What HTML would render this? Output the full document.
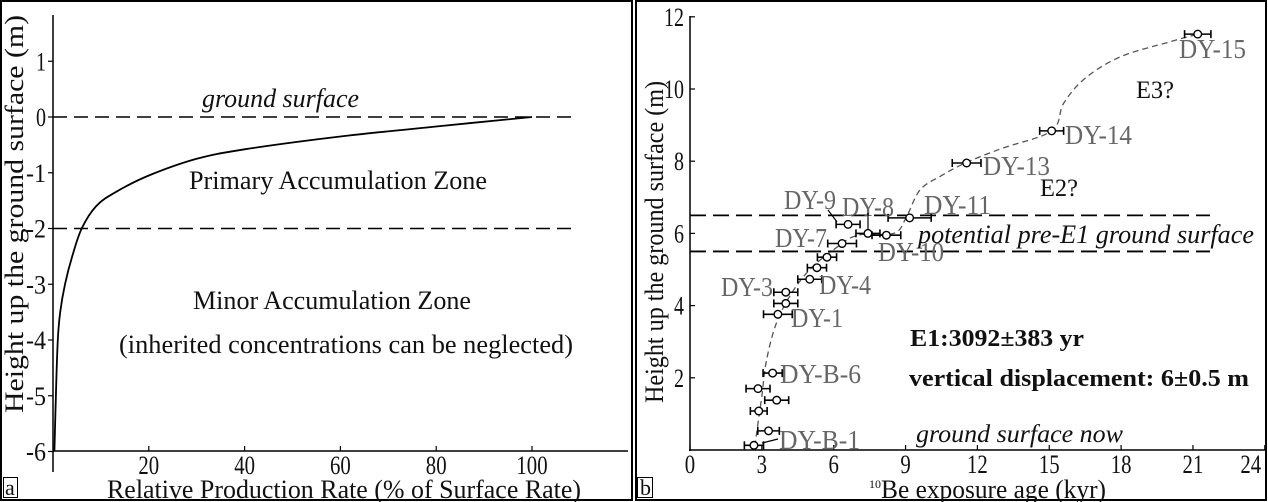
<!DOCTYPE html>
<html><head><meta charset="utf-8"><style>
html,body{margin:0;padding:0;background:#fff;}
svg{display:block;font-family:"Liberation Serif",serif;}
</style></head><body>
<svg id="root" width="1268" height="502" viewBox="0 0 1268 502" xmlns="http://www.w3.org/2000/svg">
<rect x="1" y="1" width="631" height="499" fill="none" stroke="#000" stroke-width="2"/>
<rect x="636" y="1" width="630" height="499" fill="none" stroke="#000" stroke-width="2"/>
<g id="pa"></g>
<g id="pb"></g>
</svg>
<script>
// ---- Panel a data ----
const aXTicks = [20, 40, 60, 80, 100];
const aYTicks = [1, 0, -1, -2, -3, -4, -5, -6];
const aRate = [100, 80, 60, 40, 30, 20, 13, 9, 6, 4, 2.5, 1.5, 1, 0.6, 0.3];
const aDepth = [0, -0.17, -0.35, -0.58, -0.75, -1.05, -1.35, -1.6, -2, -2.5, -3, -3.5, -4, -5, -6];
const aRefLines = [0, -2];
// ---- Panel b data ----
const bXTicks = [0, 3, 6, 9, 12, 15, 18, 21, 24];
const bYTicks = [2, 4, 6, 8, 10, 12];
const bAge = [21.2, 15.1, 11.55, 9.17, 8.2, 7.43, 6.6, 6.35, 5.72, 5.3, 5.0, 4.0, 4.0, 3.67, 3.45, 2.84, 3.62, 2.87, 3.28, 2.67];
const bHeight = [11.52, 8.84, 7.95, 6.43, 5.95, 6.0, 6.25, 5.72, 5.34, 5.05, 4.73, 4.37, 4.06, 3.76, 2.13, 1.7, 1.38, 1.08, 0.53, 0.13];
const bErr = [0.55, 0.5, 0.6, 0.9, 0.6, 0.5, 0.5, 0.6, 0.4, 0.4, 0.5, 0.5, 0.5, 0.6, 0.4, 0.5, 0.5, 0.35, 0.45, 0.4];
const bTrendAge = [2.7, 2.85, 3.0, 3.2, 3.6, 4.2, 5.0, 6.0, 7.0, 8.5, 9.0, 9.6, 10.5, 11.5, 13.0, 15.1, 15.6, 16.5, 18.0, 20.0, 21.2];
const bTrendH = [0.1, 0.8, 1.5, 2.5, 3.5, 4.3, 5.0, 5.55, 5.95, 6.0, 6.4, 7.2, 7.6, 7.95, 8.35, 8.84, 9.6, 10.3, 10.9, 11.3, 11.52];
const bRefLines = [6.5, 5.5];

const NS = "http://www.w3.org/2000/svg";
function mk(parent, tag, attrs, text) {
  const e = document.createElementNS(NS, tag);
  for (const k in attrs) e.setAttribute(k, attrs[k]);
  if (text !== undefined) e.textContent = text;
  parent.appendChild(e);
  return e;
}
function txt(parent, x, y, s, size, len, extra, name) {
  const t = mk(parent, "text", Object.assign({x: x, y: y, "font-size": size, fill: "#111"}, extra || {}), s);
  if (len) { t.setAttribute("textLength", len); t.setAttribute("lengthAdjust", "spacingAndGlyphs"); }
  
  
  return t;
}
function smooth(pts) {
  let d = "M" + pts[0][0].toFixed(1) + "," + pts[0][1].toFixed(1);
  for (let i = 0; i < pts.length - 1; i++) {
    const p0 = pts[i - 1] || pts[i], p1 = pts[i], p2 = pts[i + 1], p3 = pts[i + 2] || p2;
    const c1x = p1[0] + (p2[0] - p0[0]) / 6, c1y = p1[1] + (p2[1] - p0[1]) / 6;
    const c2x = p2[0] - (p3[0] - p1[0]) / 6, c2y = p2[1] - (p3[1] - p1[1]) / 6;
    d += " C" + c1x.toFixed(1) + "," + c1y.toFixed(1) + " " + c2x.toFixed(1) + "," + c2y.toFixed(1) + " " + p2[0].toFixed(1) + "," + p2[1].toFixed(1);
  }
  return d;
}

// ---------- Panel a ----------
const pa = document.getElementById("pa");
const ax = v => 53 + v * 4.79;
const ay = v => 117 - v * 55.75;
let l = mk(pa, "line", {x1: 53, y1: 15, x2: 53, y2: 472, stroke: "#000", "stroke-width": 1.5});


l = mk(pa, "line", {x1: 53, y1: 451, x2: 628, y2: 451, stroke: "#000", "stroke-width": 1.5});


aYTicks.forEach(v => {
  const t = mk(pa, "line", {x1: 48, y1: ay(v), x2: 53, y2: ay(v), stroke: "#000", "stroke-width": 1.2});
  
  
  txt(pa, 46, ay(v) + 9, String(v), 26, String(v).length * 10, {"text-anchor": "end"}, 'y-tick-label-a');
});
aXTicks.forEach(v => {
  const t = mk(pa, "line", {x1: ax(v), y1: 446, x2: ax(v), y2: 451, stroke: "#000", "stroke-width": 1.2});
  
  
  txt(pa, ax(v), 474, String(v), 26, null, {"text-anchor": "middle", transform: "translate(" + ax(v) + ",0) scale(0.8,1) translate(" + (-ax(v)) + ",0)"}, 'x-tick-label-a');
});
aRefLines.forEach((v, i) => {
  const d = mk(pa, "line", {x1: 53, y1: ay(v), x2: i === 0 ? 572 : 577, y2: ay(v), stroke: "#000", "stroke-width": 1.6, "stroke-dasharray": "14,7"});
  
  
});
const ca = mk(pa, "path", {d: smooth(aRate.map((r, i) => [ax(r), ay(aDepth[i])])), fill: "none", stroke: "#000", "stroke-width": 1.8, "stroke-linejoin": "round"});


txt(pa, 202, 107, "ground surface", 26, 157, {"font-style": "italic"}, 'ground-surface-label');
txt(pa, 189, 189, "Primary Accumulation Zone", 26, 298, {}, 'primary-zone-label');
txt(pa, 193, 309, "Minor Accumulation Zone", 26, 278, {}, 'minor-zone-label');
txt(pa, 119, 353, "(inherited concentrations can be neglected)", 26, 454, {}, 'minor-zone-note');
txt(pa, 107, 498, "Relative Production Rate (% of Surface Rate)", 26, 474, {}, 'x-axis-title-a');
txt(pa, 0, 0, "Height  up  the  ground surface (m)", 26, 398, {transform: "translate(23,413) rotate(-90)"}, 'y-axis-title-a');
let bx = mk(pa, "rect", {x: 3.5, y: 477.5, width: 14, height: 20, fill: "none", stroke: "#000", "stroke-width": 1});


txt(pa, 5, 495, "a", 22, null, {}, 'panel-a-tag');

// ---------- Panel b ----------
const pb = document.getElementById("pb");
const bxs = v => 690 + v * 23.95;
const bys = v => 450 - v * 36.1;
l = mk(pb, "line", {x1: 690, y1: 16, x2: 690, y2: 451, stroke: "#000", "stroke-width": 1.5});


l = mk(pb, "line", {x1: 689, y1: 450, x2: 1265, y2: 450, stroke: "#000", "stroke-width": 1.5});


bYTicks.forEach(v => {
  const t = mk(pb, "line", {x1: 690, y1: bys(v), x2: 695, y2: bys(v), stroke: "#000", "stroke-width": 1.2});
  
  
  txt(pb, 684, bys(v) + 9, String(v), 26, String(v).length * 10, {"text-anchor": "end"}, 'y-tick-label-b');
});
bXTicks.forEach(v => {
  const t = mk(pb, "line", {x1: bxs(v), y1: 445, x2: bxs(v), y2: 450, stroke: "#000", "stroke-width": 1.2});
  
  
  const cx = v === 24 ? bxs(v) - 14 : bxs(v);
  txt(pb, cx, 473, String(v), 26, null, {"text-anchor": "middle", transform: "translate(" + cx + ",0) scale(0.8,1) translate(" + (-cx) + ",0)"}, 'x-tick-label-b');
});
bRefLines.forEach(v => {
  const d = mk(pb, "line", {x1: 690, y1: bys(v), x2: 1210, y2: bys(v), stroke: "#000", "stroke-width": 1.8, "stroke-dasharray": "16,7"});
  
  
});
const cb = mk(pb, "path", {d: smooth(bTrendAge.map((a, i) => [bxs(a), bys(bTrendH[i])])), fill: "none", stroke: "#555", "stroke-width": 1.3, "stroke-dasharray": "6,4", "stroke-linejoin": "round"});


bAge.forEach((a, i) => {
  const g = mk(pb, "g", {});
  
  
  const x = bxs(a), y = bys(bHeight[i]), x1 = bxs(a - bErr[i]), x2 = bxs(a + bErr[i]);
  mk(g, "line", {x1: x1, y1: y, x2: x2, y2: y, stroke: "#000", "stroke-width": 1.6});
  mk(g, "line", {x1: x1, y1: y - 4, x2: x1, y2: y + 4, stroke: "#000", "stroke-width": 1.6});
  mk(g, "line", {x1: x2, y1: y - 4, x2: x2, y2: y + 4, stroke: "#000", "stroke-width": 1.6});
  mk(g, "circle", {cx: x, cy: y, r: 3.8, fill: "#fff", stroke: "#000", "stroke-width": 1.4});
});
const labs = [["DY-15",1179,58,67],["DY-14",1065,144,67],["DY-13",983,175,67],["DY-11",924,214,67],["DY-9",784,209,52],["DY-8",842,216,52],["DY-7",775,247,52],["DY-10",878,261,66],["DY-4",819,294,52],["DY-3",721,296,52],["DY-1",791,327,52],["DY-B-6",780,383,81],["DY-B-1",779,449,81]];
labs.forEach(s => txt(pb, s[1], s[2], s[0], 27, s[3], {fill: "#666"}, 'sample-label'));
[[828,210,837,222],[868,213,868,230],[762,443,778,439]].forEach(c => {
  const ln = mk(pb, "line", {x1: c[0], y1: c[1], x2: c[2], y2: c[3], stroke: "#000", "stroke-width": 1.2});
  
  
});
txt(pb, 1136, 98, "E3?", 25, 38, {}, 'e3-label');
txt(pb, 1040, 196, "E2?", 25, 38, {}, 'e2-label');
txt(pb, 918, 243, "potential pre-E1 ground surface", 26, 336, {"font-style": "italic"}, 'pre-e1-surface-label');
txt(pb, 916, 442, "ground surface now", 25, 207, {"font-style": "italic"}, 'ground-surface-now-label');
txt(pb, 910, 346, "E1:3092±383 yr", 24, 174, {"font-weight": "bold"}, 'e1-age-label');
txt(pb, 909, 386, "vertical displacement: 6±0.5 m", 24, 340, {"font-weight": "bold"}, 'displacement-label');
const xt = txt(pb, 869, 498, "", 26, null, {}, 'x-axis-title-b');
mk(xt, "tspan", {"font-size": 12, dy: -10}, "10");
mk(xt, "tspan", {dy: 10, textLength: 225, lengthAdjust: "spacingAndGlyphs"}, "Be exposure age (kyr)");
txt(pb, 0, 0, "Height  up  the  ground surface (m)", 26, 322, {transform: "translate(663,403) rotate(-90)"}, 'y-axis-title-b');
bx = mk(pb, "rect", {x: 637.5, y: 477.5, width: 15, height: 20, fill: "none", stroke: "#000", "stroke-width": 1});


txt(pb, 640, 495, "b", 22, null, {}, 'panel-b-tag');
</script>
</body></html>
